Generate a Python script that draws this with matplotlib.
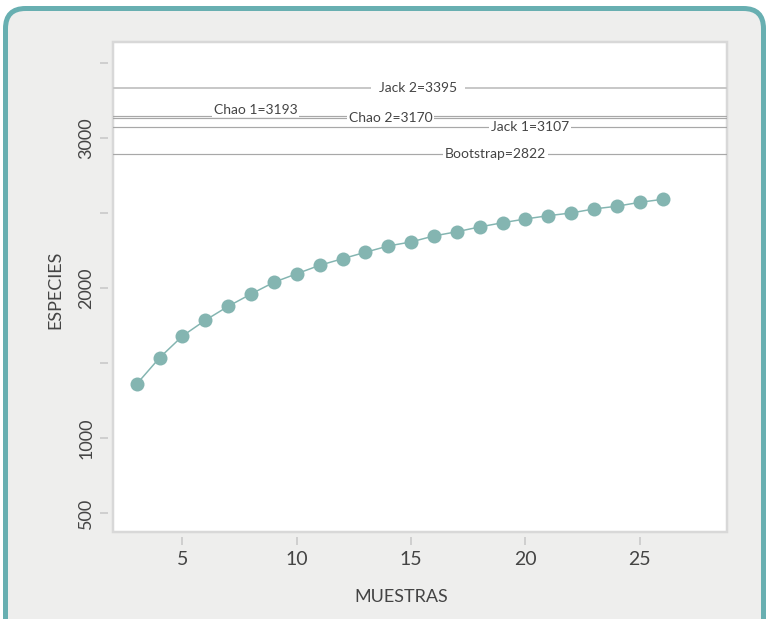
import matplotlib
matplotlib.use("Agg")
import matplotlib.pyplot as plt
from matplotlib.patches import FancyBboxPatch
from matplotlib.transforms import IdentityTransform

# accumulation curve
muestras = list(range(3, 27))
especies = [1362, 1537, 1682, 1787, 1880, 1962, 2040, 2097, 2153, 2197, 2240, 2282,
            2309, 2349, 2377, 2409, 2437, 2462, 2484, 2502, 2529, 2547, 2573, 2593]

# richness estimators (label value and height the line is drawn at in the figure)
estimadores = ["Jack 2", "Chao 1", "Chao 2", "Jack 1", "Bootstrap"]
valores = [3395, 3193, 3170, 3107, 2822]
niveles = [3333, 3151, 3133, 3073, 2897]
pos_etiqueta = [15.3, 8.2, 14.1, 20.2, 18.7]

yticks = [500, 1000, 1500, 2000, 2500, 3000, 3500]
ytick_labels = ["500", "1000", "", "2000", "", "3000", ""]
xticks = [5, 10, 15, 20, 25]

plt.rcParams["font.family"] = ["Lato", "DejaVu Sans"]
TXT = "#444444"
PX = 0.72  # points per pixel at dpi 100

W, H = 768, 619
fig = plt.figure(figsize=(W / 100, H / 100), dpi=100, facecolor="white")

# rounded panel behind the chart
panel = FancyBboxPatch((5.5, -40), 758, H - 8.5 + 40,
                       boxstyle="round,pad=0,rounding_size=20",
                       transform=IdentityTransform(),
                       facecolor="#eeeeed", edgecolor="#68afb1",
                       linewidth=5 * PX, zorder=0)
fig.add_artist(panel)

ax = fig.add_axes([113 / W, 1 - 532 / H, (727 - 113) / W, (532 - 42) / H])
ax.set_facecolor("white")
ax.patch.set_edgecolor("#d8d8d8")
ax.patch.set_linewidth(2.5 * PX)
for s in ax.spines.values():
    s.set_visible(False)
ax.spines["left"].set_position(("outward", 5 * PX))
ax.spines["bottom"].set_position(("outward", 5 * PX))

# estimator lines
for i, (nombre, val, niv, xe) in enumerate(zip(estimadores, valores, niveles, pos_etiqueta)):
    if nombre == "Jack 2":
        ax.axhline(niv, color="#c8c8c8", lw=2 * PX, zorder=2)
    else:
        ax.axhline(niv, color="#a8a8a8", lw=1.2 * PX, zorder=2)
    pad = 0.55 if nombre == "Jack 2" else 0.12
    va = "bottom" if nombre == "Chao 1" else "center"
    ax.text(xe, niv, f"{nombre}={val}", ha="center", va=va, fontsize=10,
            color=TXT, zorder=3,
            bbox=dict(boxstyle=f"square,pad={pad}", fc="white", ec="none"))

ax.plot(muestras, especies, color="#84b5b1", lw=1.5 * PX, marker="o",
        markersize=14 * PX, markeredgewidth=0, zorder=4)

ax.set_xlim(1.96, 28.82)
ax.set_ylim(375, 3642)
ax.set_xticks(xticks)
ax.set_xticklabels([str(t) for t in xticks])
ax.set_yticks(yticks)
ax.set_yticklabels(ytick_labels, rotation=90, va="center")
ax.tick_params(axis="both", length=8 * PX, width=2 * PX, color="#cfcfcf",
               labelcolor=TXT)
ax.tick_params(axis="x", labelsize=14, pad=4)
ax.tick_params(axis="y", labelsize=13, pad=4)

fig.text(401 / W, 1 - 597 / H, "MUESTRAS", ha="center", va="center",
         fontsize=13, color=TXT)
fig.text(55 / W, 1 - 290 / H, "ESPECIES", ha="center", va="center",
         rotation=90, fontsize=13, color=TXT)

fig.savefig("out.png", dpi=100, facecolor="white")
